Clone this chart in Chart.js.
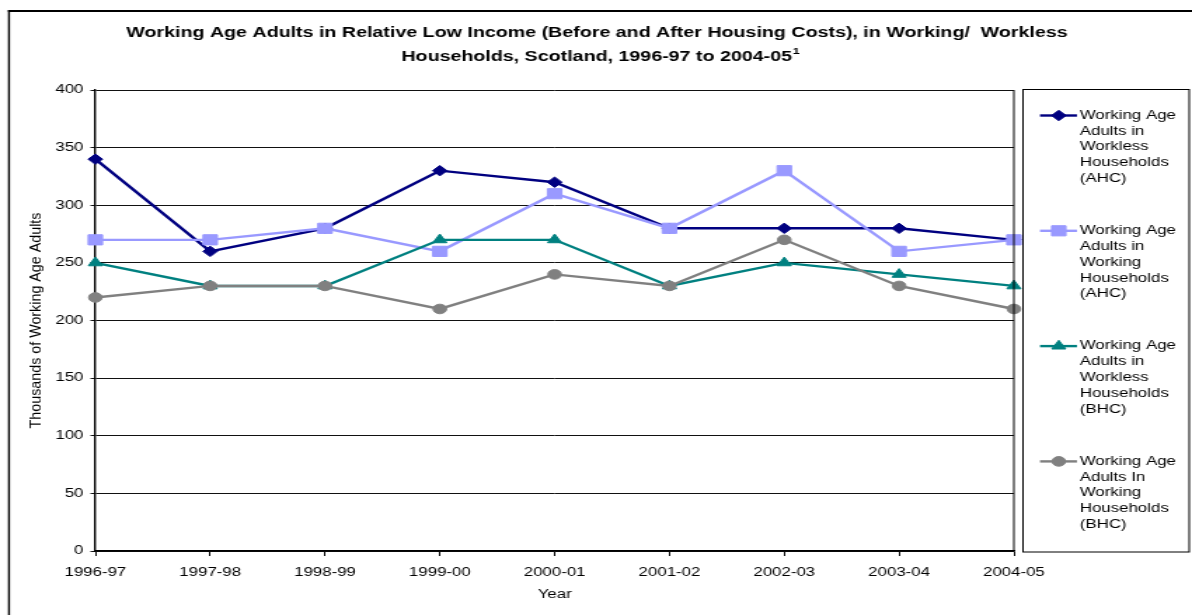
<!DOCTYPE html>
<html>
<head>
<meta charset="utf-8">
<script src="https://cdn.jsdelivr.net/npm/chart.js@4.4.1/dist/chart.umd.min.js"></script>
<style>
  html, body { margin: 0; padding: 0; background: #fff; overflow: hidden; }
  #chart { display: block; }
</style>
</head>
<body>
<!-- drawn narrow and stretched sideways, like the original picture -->
<canvas id="chart" width="850" height="615" style="width:1192px;height:615px"></canvas>
<script>
const years = ['1996-97', '1997-98', '1998-99', '1999-00', '2000-01', '2001-02', '2002-03', '2003-04', '2004-05'];
const yTicks = [0, 50, 100, 150, 200, 250, 300, 350, 400];

const worklessAHC = [340, 260, 280, 330, 320, 280, 280, 280, 270];
const workingAHC  = [270, 270, 280, 260, 310, 280, 330, 260, 270];
const worklessBHC = [250, 230, 230, 270, 270, 230, 250, 240, 230];
const workingBHC  = [220, 230, 230, 210, 240, 230, 270, 230, 210];

const seriesNames = [
    ['Working Age', 'Adults in', 'Workless', 'Households', '(AHC)'],
    ['Working Age', 'Adults in', 'Working', 'Households', '(AHC)'],
    ['Working Age', 'Adults in', 'Workless', 'Households', '(BHC)'],
    ['Working Age', 'Adults In', 'Working', 'Households', '(BHC)'],
];

const titleLines = [
    'Working Age Adults in Relative Low Income (Before and After Housing Costs), in Working/  Workless',
    'Households, Scotland, 1996-97 to 2004-05',
];

const S = 1192 / 850; // horizontal stretch
const FONT = '"Liberation Sans", Arial, sans-serif';

const styles = [
    { color: '#000080', point: 'rectRot', radius: 5.2 },
    { color: '#9999FF', point: 'rect', radius: 7.2 },
    { color: '#008080', point: 'triangle', radius: 5.8 },
    { color: '#808080', point: 'circle', radius: 4.8 },
];

const allSeries = [worklessAHC, workingAHC, worklessBHC, workingBHC];

const datasets = allSeries.map((vals, i) => ({
    label: seriesNames[i].join(' '),
    data: vals,
    borderColor: styles[i].color,
    backgroundColor: styles[i].color,
    pointStyle: styles[i].point,
    pointRadius: styles[i].radius,
    pointBorderWidth: 1,
    borderWidth: 2.4,
    tension: 0,
    order: 4 - i, // later series on top, as in the original
}));

// frame, titles and legend
const decorations = {
    id: 'decorations',
    afterDraw(chart) {
        const ctx = chart.ctx;
        const area = chart.chartArea;
        ctx.save();
        ctx.fillStyle = '#000';

        // outer border (right and bottom run off the picture)
        ctx.fillRect(5.7, 10, 850, 2);
        ctx.fillRect(5.7, 10, 1.4, 615);

        // title - narrow bold face if there is one, else plain bold
        let tFont = 'bold 17px "Liberation Sans Narrow", "Arial Narrow", sans-serif';
        let supFont = 'bold 11px "Liberation Sans Narrow", "Arial Narrow", sans-serif';
        ctx.font = tFont;
        if (ctx.measureText(titleLines[0]).width > 720) {
            tFont = 'bold 14px ' + FONT;
            supFont = 'bold 9px ' + FONT;
        }
        ctx.textBaseline = 'middle';
        ctx.textAlign = 'center';
        ctx.font = tFont;
        ctx.fillText(titleLines[0], 425.7, 33);
        const w2 = ctx.measureText(titleLines[1]).width;
        ctx.font = supFont;
        const wSup = ctx.measureText('1').width;
        const x2 = 428 - (w2 + wSup) / 2;
        ctx.textAlign = 'left';
        ctx.font = tFont;
        ctx.fillText(titleLines[1], x2, 57);
        ctx.font = supFont;
        ctx.fillText('1', x2 + w2 + 0.5, 51.5);

        // axis titles
        ctx.textAlign = 'center';
        ctx.font = '12px ' + FONT;
        ctx.fillText('Year', (area.left + area.right) / 2, 595);
        ctx.save();
        ctx.translate(26.4, (area.top + area.bottom) / 2);
        ctx.scale(1 / S, 1);
        ctx.rotate(-Math.PI / 2);
        ctx.font = '14.3px ' + FONT;
        ctx.fillText('Thousands of Working Age Adults', 0, 0);
        ctx.restore();

        // right edge of plot area
        ctx.fillRect(area.right - 0.5, area.top, 1, area.bottom - area.top);

        // legend box
        ctx.strokeStyle = '#000';
        ctx.lineWidth = 1;
        ctx.strokeRect(729.5, 89.5, 118.5, 462.5);

        ctx.font = '12px ' + FONT;
        ctx.textAlign = 'left';
        seriesNames.forEach((lines, i) => {
            const y0 = 115.5 + i * 115.3;
            const st = styles[i];
            ctx.strokeStyle = st.color;
            ctx.fillStyle = st.color;
            ctx.lineWidth = 2.4;
            ctx.beginPath();
            ctx.moveTo(741.6, y0);
            ctx.lineTo(768, y0);
            ctx.stroke();
            ctx.lineWidth = 1;
            Chart.helpers.drawPoint(ctx, { pointStyle: st.point, radius: st.radius, rotation: 0, borderWidth: 1 }, 755, y0);
            ctx.fillStyle = '#000';
            lines.forEach((t, j) => ctx.fillText(t, 770, y0 + j * 15.8));
        });
        ctx.restore();
    }
};

new Chart(document.getElementById('chart'), {
    type: 'line',
    data: { labels: years, datasets: datasets },
    options: {
        responsive: false,
        animation: false,
        events: [],
        layout: { padding: { top: 90, right: 127, bottom: 0, left: 0 } },
        plugins: {
            legend: { display: false },
            title: { display: false },
            tooltip: { enabled: false },
        },
        scales: {
            x: {
                offset: false,
                grid: { drawOnChartArea: false, drawTicks: true, tickLength: 5, color: '#000', lineWidth: 1 },
                border: { color: '#000', width: 1.5 },
                ticks: { color: '#000', font: { family: FONT, size: 12 }, padding: 9, maxRotation: 0, autoSkip: false },
                afterFit: (s) => { s.height = 64; },
            },
            y: {
                min: 0,
                max: 400,
                afterBuildTicks: (s) => { s.ticks = yTicks.map(v => ({ value: v })); },
                grid: { color: '#111', lineWidth: 1, tickLength: 3.5 },
                border: { color: '#000', width: 1.4 },
                ticks: { color: '#000', font: { family: FONT, size: 12 }, padding: 5 },
                afterFit: (s) => { s.width = 68; },
            },
        },
    },
    plugins: [decorations],
});
</script>
</body>
</html>
